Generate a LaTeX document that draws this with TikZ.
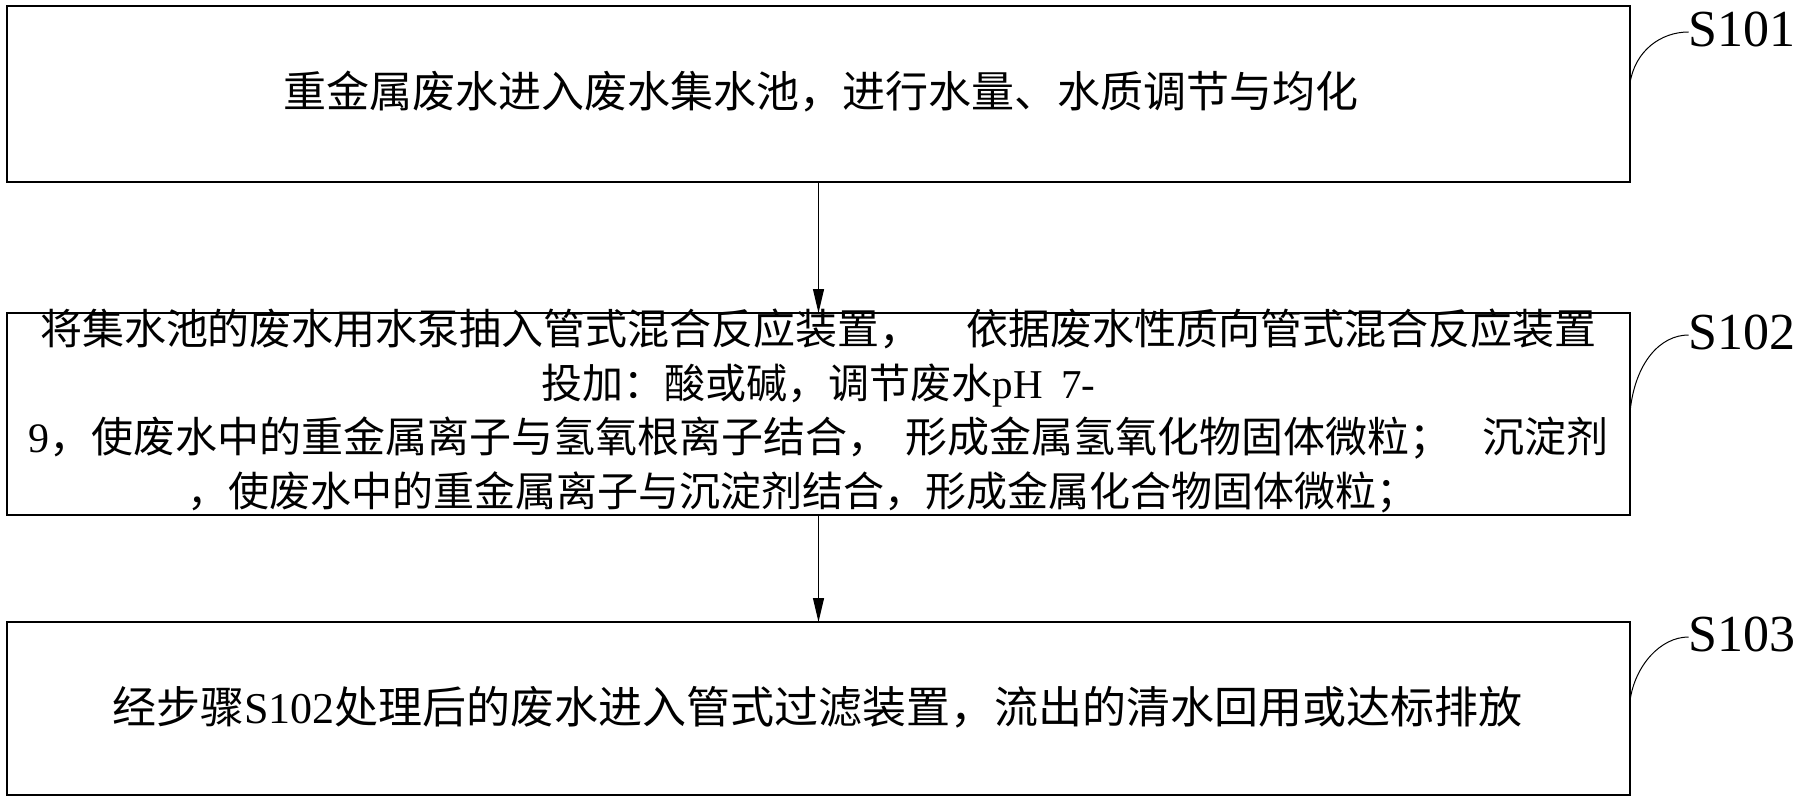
\documentclass[tikz,border=0pt]{standalone}
\usepackage{fontspec}
\setmainfont{Liberation Serif}
\newfontfamily\cjk{Noto Sans CJK SC}
\usetikzlibrary{arrows.meta}
\newcommand\bigln{\fontsize{42}{54}\selectfont}
\begin{document}
\begin{tikzpicture}[x=1pt,y=-1pt,
  stepbox/.style={draw, line width=1.8pt, minimum width=1623pt, inner sep=0pt, outer sep=0pt},
  txt/.style={inner sep=0pt, outer sep=0pt, align=center},
  lbl/.style={inner sep=0pt, outer sep=0pt, font=\fontsize{52}{60}\selectfont},
  arr/.style={line width=1.1pt, -{Triangle[length=24pt,width=11pt]}},
  lead/.style={line width=1pt}]
\useasboundingbox (0,0) rectangle (1808,800);
\fill[white] (0,0) rectangle (1808,800);
% boxes
\node[stepbox, minimum height=176pt] (b1) at (818.5,94) {};
\node[stepbox, minimum height=202pt] (b2) at (818.5,414) {};
\node[stepbox, minimum height=173pt] (b3) at (818.5,708.5) {};
% texts
\node[txt, font=\fontsize{43}{50}\selectfont] (t1) at (821,92) {{\cjk 重金属废水进入废水集水池，进行水量、水质调节与均化}};
\node[txt, font=\fontsize{41}{54}\selectfont] (t2) at (818.5,411) {%
\makebox[1557pt][s]{\bigln\cjk 将集水池的废水用水泵抽入管式混合反应装置，\hfil 依据废水性质向管式混合反应装置}\\
{\cjk 投加：酸或碱，调节废水}pH\hspace{0.45em}7-\\
\makebox[1580pt][s]{\bigln 9{\cjk ，使废水中的重金属离子与氢氧根离子结合，\hfil 形成金属氢氧化物固体微粒；\hfil\hfil 沉淀剂}}\\
\hspace*{-32pt}{\cjk ，使废水中的重金属离子与沉淀剂结合，形成金属化合物固体微粒；}};
\node[txt, font=\fontsize{44}{50}\selectfont] (t3) at (812.5,707) {\makebox[1400pt][s]{{\cjk 经步骤}S102{\cjk 处理后的废水进入管式过滤装置，\hfil 流出的清水回用或达标排放}}};
% arrows
\draw[arr] (b1.south) -- (b2.north);
\draw[arr] (b2.south) -- (b3.north);
% labels
\node[lbl] (s1) at (1742,29) {S101};
\node[lbl] (s2) at (1742,332) {S102};
\node[lbl] (s3) at (1742,634) {S103};
\coordinate (l1) at ([yshift=11pt]b1.east);
\coordinate (l2) at ([yshift=2pt]b2.east);
\coordinate (l3) at ([yshift=8pt]b3.east);
\draw[lead] (l1) .. controls +(5,-32) and +(-28,0) .. ([yshift=-3pt]s1.west);
\draw[lead] (l2) .. controls +(5,-50) and +(-28,0) .. ([yshift=-3pt]s2.west);
\draw[lead] (l3) .. controls +(5,-35) and +(-28,0) .. ([yshift=-3pt]s3.west);
\end{tikzpicture}
\end{document}
